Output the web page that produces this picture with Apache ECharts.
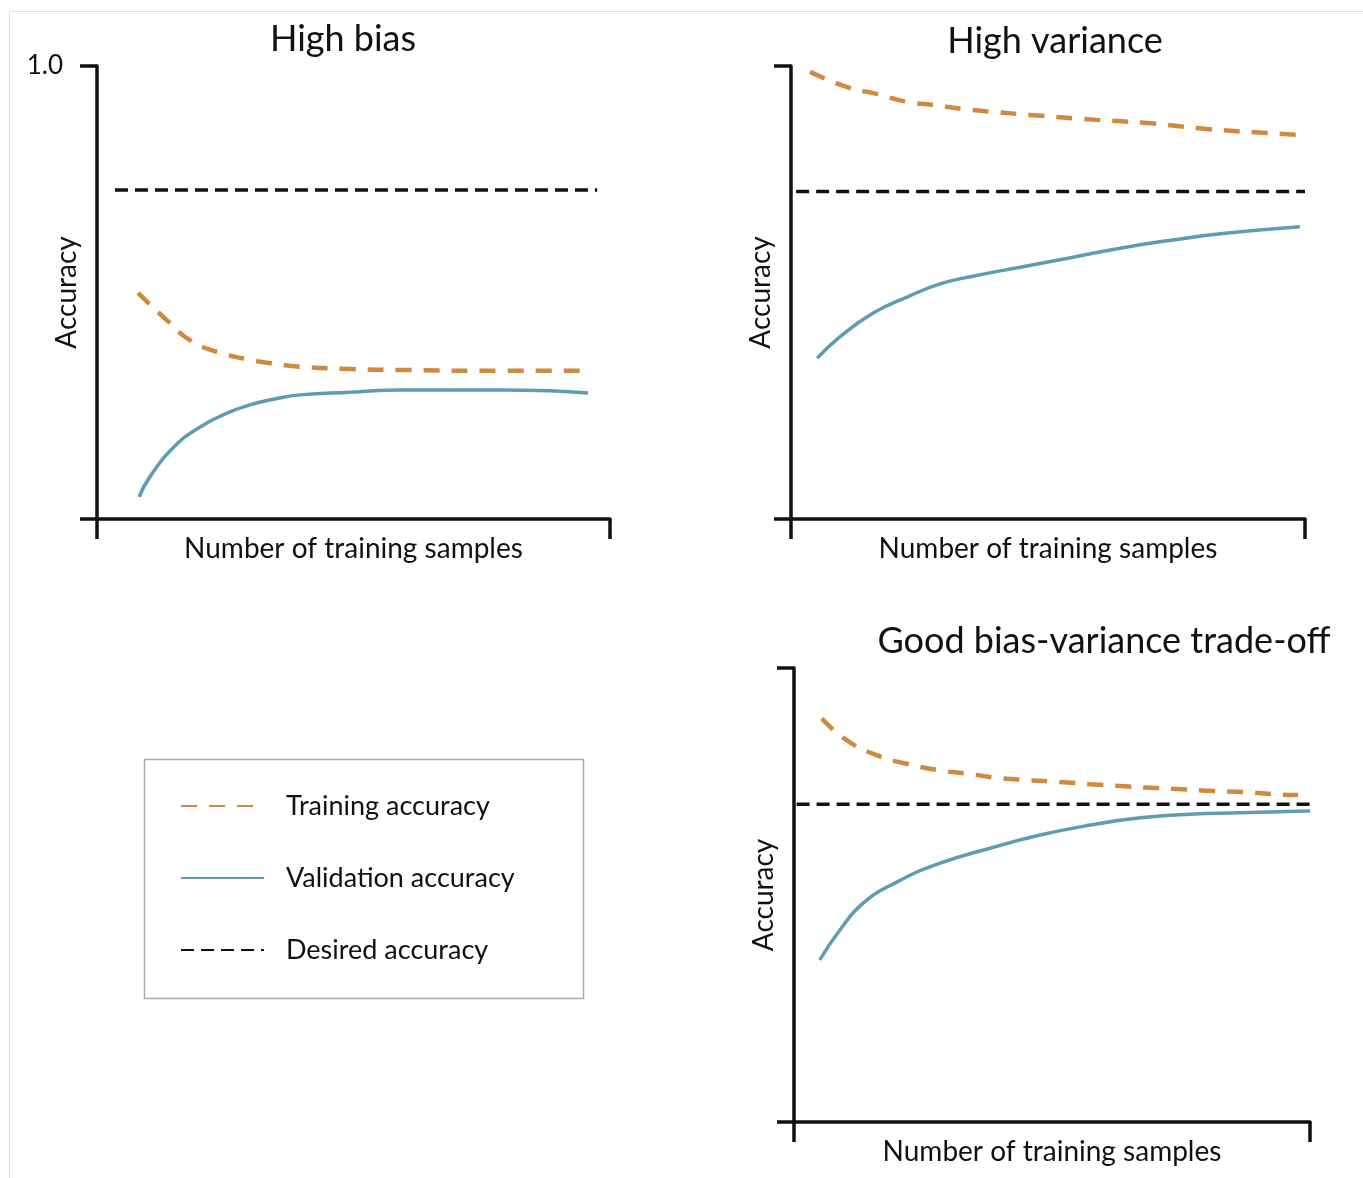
<!DOCTYPE html>
<html>
<head>
<meta charset="utf-8">
<script src="https://cdn.jsdelivr.net/npm/echarts@6/dist/echarts.min.js"></script>
<style>
  html, body { margin: 0; padding: 0; background: #fff; }
  #chart { width: 1363px; height: 1178px; }
</style>
</head>
<body>
<div id="chart"></div>
<script>
const chart = echarts.init(document.getElementById('chart'));

// panel titles and legend names
const panelTitles = ['High bias', 'High variance', 'Good bias-variance trade-off'];
const seriesNames = ['Training accuracy', 'Validation accuracy', 'Desired accuracy'];

// high bias: [samples (0-100), accuracy (0-1)]
const biasTrain = [[8, 0.499], [13.6, 0.439], [18.1, 0.395], [23.4, 0.369], [29.2, 0.353], [35.1, 0.342],
    [39.6, 0.336], [49.3, 0.331], [59.1, 0.329], [78.6, 0.327], [95.7, 0.327]];
const biasValid = [[8.2, 0.049], [10.3, 0.093], [15.2, 0.161], [20.1, 0.203], [25, 0.232], [29.8, 0.252],
    [34.7, 0.265], [39.6, 0.274], [49.3, 0.280], [59.1, 0.285], [68.8, 0.285], [78.6, 0.285],
    [88.3, 0.283], [95.7, 0.278]];
const biasDesired = [[3.5, 0.726], [97.5, 0.726]];

// high variance
const varTrain = [[3.7, 0.987], [11.5, 0.951], [16, 0.940], [22.6, 0.921], [27.6, 0.914], [33.5, 0.905],
    [40.1, 0.898], [46.5, 0.892], [56.8, 0.883], [69.3, 0.874], [80.9, 0.861], [92.6, 0.852], [99, 0.848]];
const varValid = [[5.1, 0.355], [9.5, 0.402], [16, 0.455], [22.6, 0.490], [29, 0.519], [35.4, 0.536],
    [45.1, 0.557], [54.9, 0.578], [64.6, 0.599], [74.3, 0.616], [84, 0.630], [99, 0.645]];
const varDesired = [[1, 0.723], [100, 0.723]];

// good trade-off
const goodTrain = [[5.4, 0.889], [10.2, 0.841], [16, 0.808], [21.8, 0.789], [27.9, 0.775], [33.7, 0.767],
    [39.5, 0.758], [45.3, 0.753], [51.6, 0.749], [57.4, 0.744], [63.2, 0.740], [69.4, 0.736],
    [75.2, 0.733], [81.2, 0.729], [87, 0.727], [92.8, 0.722], [97.7, 0.720]];
const goodValid = [[5, 0.357], [8.9, 0.423], [13.4, 0.482], [20, 0.529], [28.3, 0.570], [38, 0.603],
    [47.7, 0.632], [57.4, 0.654], [67.1, 0.670], [76.7, 0.678], [86.4, 0.681], [100, 0.685]];
const goodDesired = [[0.5, 0.700], [100, 0.700]];

const panels = [
    [biasTrain, biasValid, biasDesired],
    [varTrain, varValid, varDesired],
    [goodTrain, goodValid, goodDesired]
];

const FONT = 'Lato';
const INK = '#111';
const ORANGE = '#cf8a3f';
const BLUE = '#5f9bb3';

const grids = [
    { left: 97, top: 66, width: 513, height: 453 },
    { left: 791, top: 66, width: 514, height: 453 },
    { left: 794, top: 668, width: 516, height: 454 }
];

const axisLine = { lineStyle: { color: INK, width: 3.5 } };

var xAxes = [], yAxes = [], series = [];
grids.forEach((g, i) => {
    xAxes.push({
        type: 'value', gridIndex: i, min: 0, max: 100, interval: 100,
        name: 'Number of training samples', nameLocation: 'middle', nameGap: 16,
        nameMoveOverlap: false,
        nameTextStyle: { fontFamily: FONT, fontSize: 28, color: INK },
        axisLine: axisLine,
        axisTick: { show: true, length: 20, lineStyle: { color: INK, width: 3.5 } },
        axisLabel: { show: false },
        splitLine: { show: false }
    });
    yAxes.push({
        type: 'value', gridIndex: i, min: 0, max: 1, interval: 1,
        name: 'Accuracy', nameLocation: 'middle', nameGap: 16,
        nameMoveOverlap: false,
        nameTextStyle: { fontFamily: FONT, fontSize: 28, color: INK },
        axisLine: axisLine,
        axisTick: { show: true, length: 17, lineStyle: { color: INK, width: 3.5 } },
        axisLabel: {
            margin: 34, fontFamily: FONT, fontSize: 26, color: INK,
            formatter: v => (i === 0 && v === 1) ? '1.0' : ''
        },
        splitLine: { show: false }
    });
    const d = panels[i];
    series.push({
        name: seriesNames[0], type: 'line', xAxisIndex: i, yAxisIndex: i,
        data: d[0], smooth: 0.5, symbol: 'none',
        lineStyle: { color: ORANGE, width: 4.5, type: [16, 12] },
        itemStyle: { color: ORANGE }
    }, {
        name: seriesNames[1], type: 'line', xAxisIndex: i, yAxisIndex: i,
        data: d[1], smooth: 0.5, symbol: 'none',
        lineStyle: { color: BLUE, width: 3.5 },
        itemStyle: { color: BLUE }
    }, {
        name: seriesNames[2], type: 'line', xAxisIndex: i, yAxisIndex: i,
        data: d[2], symbol: 'none',
        lineStyle: { color: INK, width: 3.5, type: [13, 7] },
        itemStyle: { color: INK }
    });
});

const titlePos = [[338, 16], [1050, 18], [1099, 618]];
const titles = panelTitles.map((t, i) => ({
    text: t,
    left: titlePos[i][0],
    top: titlePos[i][1],
    textAlign: 'center',
    textStyle: { fontFamily: FONT, fontSize: 36, fontWeight: 'normal', color: INK }
}));

chart.setOption({
    backgroundColor: '#fff',
    animation: false,
    title: titles,
    grid: grids,
    xAxis: xAxes,
    yAxis: yAxes,
    legend: {
        data: seriesNames,
        orient: 'vertical',
        left: 175,
        top: 786,
        itemWidth: 83,
        itemHeight: 14,
        itemGap: 42,
        itemStyle: { opacity: 0 },
        textStyle: { fontFamily: FONT, fontSize: 27, color: INK, lineHeight: 30, padding: [0, 0, 0, 17] }
    },
    graphic: [
        {
            type: 'rect', left: 142, top: 757,
            shape: { width: 439, height: 239 },
            style: { fill: 'none', stroke: '#aaa', lineWidth: 1.5 }
        },
        {
            type: 'rect', left: 7, top: 9,
            shape: { width: 1360, height: 1175 },
            style: { fill: 'none', stroke: '#ddd', lineWidth: 1 }
        }
    ],
    series: series
});
</script>
</body>
</html>
